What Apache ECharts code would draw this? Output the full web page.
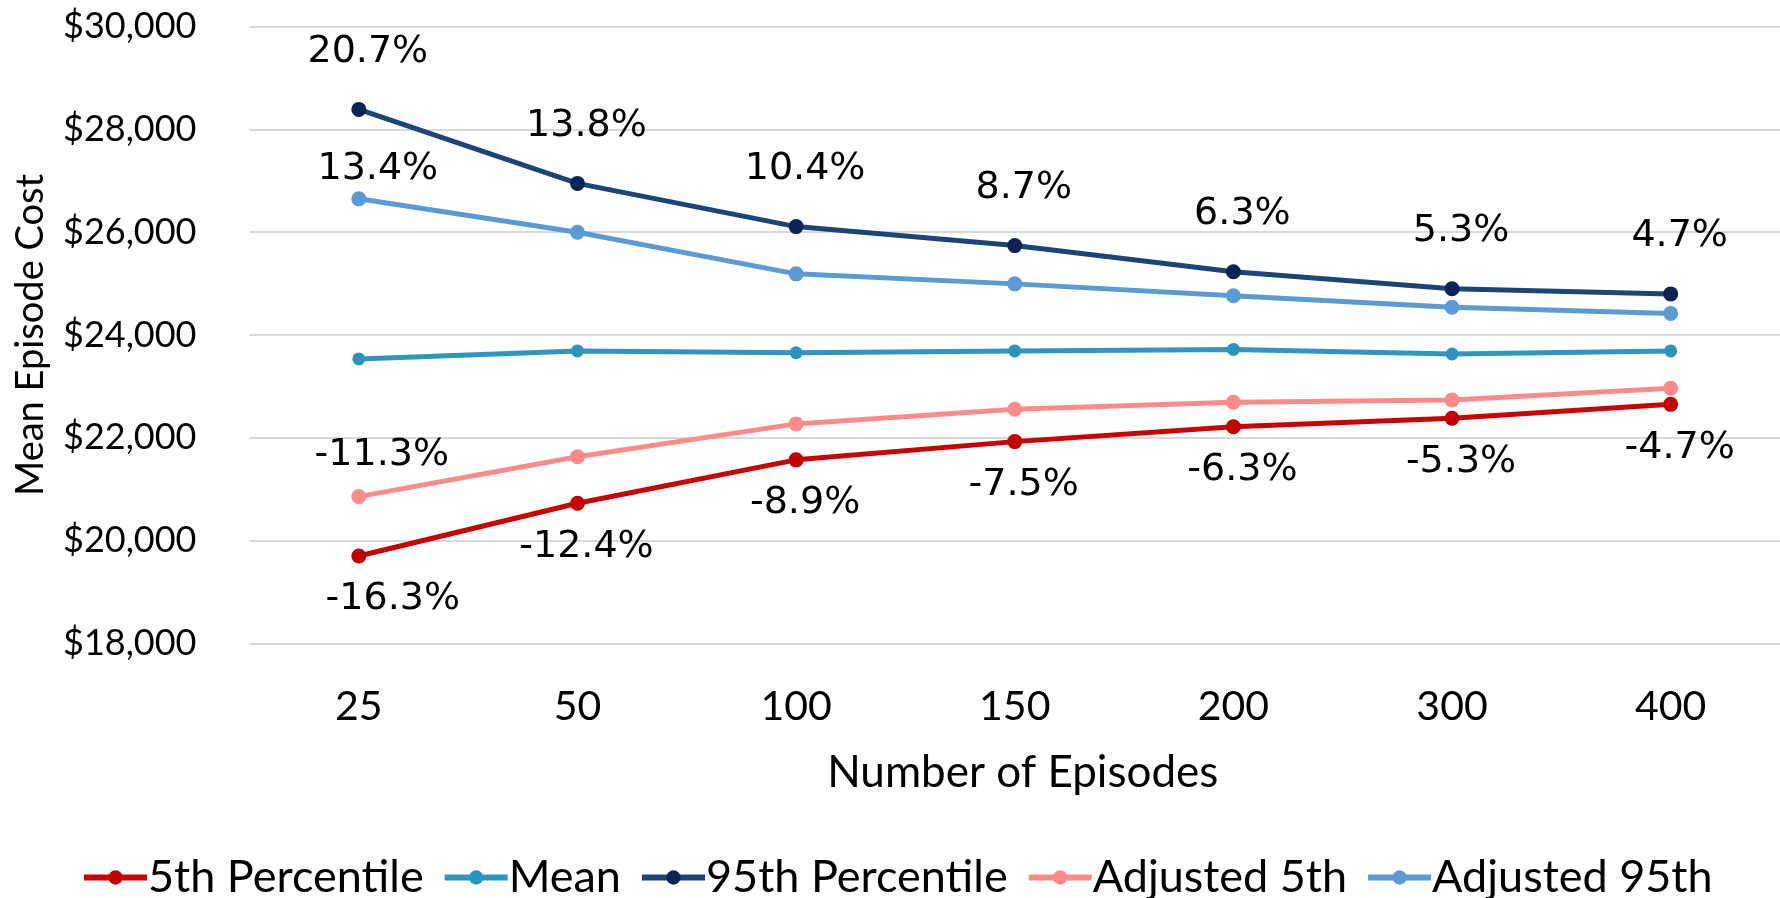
<!DOCTYPE html>
<html>
<head>
<meta charset="utf-8">
<script src="https://cdn.jsdelivr.net/npm/echarts@6/dist/echarts.min.js"></script>
<style>
html,body{margin:0;padding:0;background:#fff;}
#chart{width:1780px;height:898px;}
</style>
</head>
<body>
<div id="chart"></div>
<script>
const categories = ['25', '50', '100', '150', '200', '300', '400'];
const p5 = [19700, 20725, 21570, 21925, 22215, 22380, 22650];
const meanVals = [23535, 23690, 23655, 23690, 23720, 23630, 23690];
const p95 = [28390, 26950, 26110, 25740, 25230, 24900, 24800];
const adj5 = [20855, 21630, 22270, 22555, 22690, 22735, 22965];
const adj95 = [26650, 26000, 25190, 24995, 24765, 24540, 24420];
const p95Labels = ['20.7%', '13.8%', '10.4%', '8.7%', '6.3%', '5.3%', '4.7%'];
const p5Labels = ['-16.3%', '-12.4%', '-8.9%', '-7.5%', '-6.3%', '-5.3%', '-4.7%'];
const adj95Labels = ['13.4%', '', '', '', '', '', ''];
const adj5Labels = ['-11.3%', '', '', '', '', '', ''];
const seriesNames = ['5th Percentile', 'Mean', '95th Percentile', 'Adjusted 5th', 'Adjusted 95th'];

const FONT = 'Lato';
const LABEL_FONT = 'DejaVu Sans';

function pctLabel(arr, position, distance, dx) {
  return {
    show: true,
    position: position,
    distance: distance,
    offset: [dx, 0],
    fontFamily: LABEL_FONT,
    fontSize: 38,
    color: '#000',
    formatter: p => arr[p.dataIndex]
  };
}

function lineSeries(name, data, lineColor, markerColor, size, label) {
  return {
    name: name,
    type: 'line',
    data: data,
    symbol: 'circle',
    symbolSize: size,
    lineStyle: { color: lineColor, width: 5 },
    itemStyle: { color: markerColor },
    label: label || { show: false },
    emphasis: { disabled: true },
    animation: false
  };
}

// first 5th-percentile label sits further right in the original
const p5Data = p5.map((v, i) => i === 0 ? { value: v, label: { offset: [34, 0] } } : v);

const chart = echarts.init(document.getElementById('chart'), null, { renderer: 'canvas' });
chart.setOption({
  backgroundColor: '#fff',
  animation: false,
  grid: { left: 249.5, top: 26.7, right: -15.5, bottom: 254.7, containLabel: false },
  legend: {
    data: seriesNames,
    left: 76,
    top: 850,
    itemWidth: 63,
    itemHeight: 18,
    itemGap: 18,
    lineStyle: { width: 6 },
    textStyle: { fontFamily: FONT, fontSize: 45, color: '#000', padding: [0, 0, 0, -4] }
  },
  xAxis: {
    type: 'category',
    data: categories,
    boundaryGap: true,
    name: 'Number of Episodes',
    nameLocation: 'middle',
    nameGap: 108,
    nameTextStyle: { fontFamily: FONT, fontSize: 44, color: '#000', padding: [0, 0, 0, 16] },
    axisLine: { show: false },
    axisTick: { show: false },
    axisLabel: { fontFamily: FONT, fontSize: 41, color: '#000', margin: 43 }
  },
  yAxis: {
    type: 'value',
    min: 18000,
    max: 30000,
    interval: 2000,
    name: 'Mean Episode Cost',
    nameLocation: 'middle',
    nameGap: 200,
    nameTextStyle: { fontFamily: FONT, fontSize: 38, color: '#000' },
    axisLine: { show: false },
    axisTick: { show: false },
    splitLine: { lineStyle: { color: '#D9D9D9', width: 2 } },
    axisLabel: {
      fontFamily: FONT, fontSize: 36, color: '#000', margin: 53,
      formatter: v => '$' + v.toLocaleString('en-US')
    }
  },
  series: [
    lineSeries(seriesNames[0], p5Data, '#CC0000', '#C40000', 15, pctLabel(p5Labels, 'bottom', 17, 9)),
    lineSeries(seriesNames[1], meanVals, '#2E96C0', '#2A93BF', 13),
    lineSeries(seriesNames[2], p95, '#1C4476', '#0B2357', 15, pctLabel(p95Labels, 'top', 31, 9)),
    lineSeries(seriesNames[3], adj5, '#FF8A8A', '#FF8A8A', 15, pctLabel(adj5Labels, 'top', 15, 23)),
    lineSeries(seriesNames[4], adj95, '#5B9BD5', '#5B9BD5', 15, pctLabel(adj95Labels, 'top', 3, 19))
  ]
});
</script>
</body>
</html>
